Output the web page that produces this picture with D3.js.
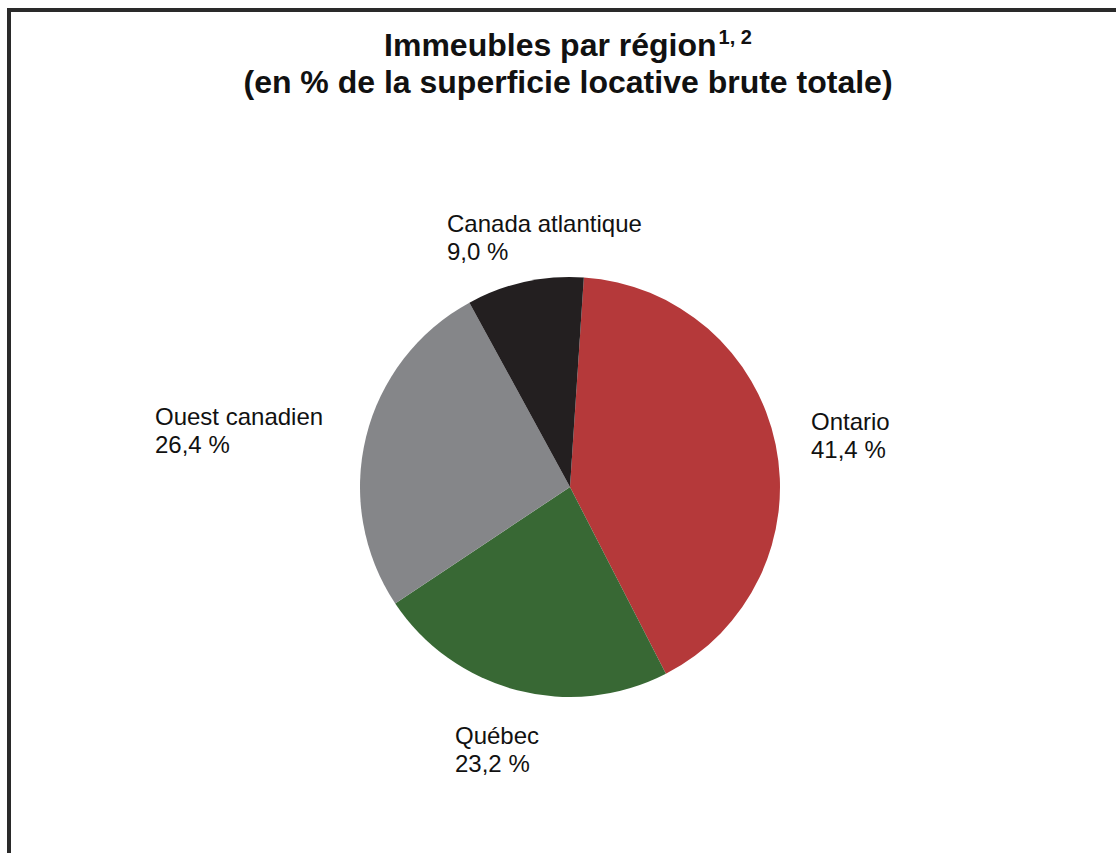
<!DOCTYPE html>
<html>
<head>
<meta charset="utf-8">
<script src="https://cdn.jsdelivr.net/npm/d3@7"></script>
<style>
  body { margin: 0; background: #fff; }
  svg { display: block; font-family: "Liberation Sans", Arial, sans-serif; }
</style>
</head>
<body>
<svg id="chart"></svg>
<script>
// data (in % of total gross leasable area)
const REGIONS = ['Ontario', 'Québec', 'Ouest canadien', 'Canada atlantique'];
const SHARES = [41.4, 23.2, 26.4, 9.0];
const SHARE_LABELS = ['41,4 %', '23,2 %', '26,4 %', '9,0 %'];

const WIDTH = 1116;
const HEIGHT = 853;
const CENTER = {x: 570, y: 487};
const RADIUS = 210;
const START_ANGLE = 0.066; // first slice starts just right of 12 o'clock

const COLORS = d3.scaleOrdinal()
    .domain(REGIONS)
    .range(['#b5393a', '#386834', '#858689', '#231f20']);

// where each label block starts (left x, first baseline y)
const LABEL_XY = {
    'Ontario': [811, 430],
    'Québec': [455, 744],
    'Ouest canadien': [155, 425],
    'Canada atlantique': [447, 232]
};

const svg = d3.select('#chart')
    .attr('width', WIDTH)
    .attr('height', HEIGHT);

// frame (top and left edges are visible)
svg.append('path')
    .attr('d', `M9,${HEIGHT} V10 H${WIDTH}`)
    .attr('fill', 'none')
    .attr('stroke', '#2a2a2a')
    .attr('stroke-width', 4);

// title
const title = svg.append('text')
    .attr('x', 568)
    .attr('y', 56)
    .attr('text-anchor', 'middle')
    .attr('font-size', 32)
    .attr('font-weight', 'bold')
    .attr('fill', '#111');
title.append('tspan').text('Immeubles par région');
title.append('tspan').attr('font-size', 20).attr('dy', -12).attr('dx', 2).text('1, 2');

svg.append('text')
    .attr('x', 568)
    .attr('y', 93)
    .attr('text-anchor', 'middle')
    .attr('font-size', 32)
    .attr('font-weight', 'bold')
    .attr('fill', '#111')
    .text('(en % de la superficie locative brute totale)');

const data = REGIONS.map((r, i) => ({region: r, value: SHARES[i], label: SHARE_LABELS[i]}));

const pie = d3.pie()
    .value(d => d.value)
    .sort(null)
    .startAngle(START_ANGLE)
    .endAngle(START_ANGLE + 2 * Math.PI);

const arc = d3.arc().innerRadius(0).outerRadius(RADIUS);

const g = svg.append('g')
    .attr('transform', `translate(${CENTER.x},${CENTER.y})`);

g.selectAll('.slice')
    .data(pie(data))
    .enter()
    .append('path')
    .classed('slice', true)
    .attr('d', arc)
    .attr('fill', d => COLORS(d.data.region));

// labels: region name + share on two lines
const labels = svg.selectAll('.label')
    .data(data)
    .enter()
    .append('text')
    .classed('label', true)
    .attr('font-size', 24)
    .attr('fill', '#111');

labels.append('tspan')
    .attr('x', d => LABEL_XY[d.region][0])
    .attr('y', d => LABEL_XY[d.region][1])
    .text(d => d.region);

labels.append('tspan')
    .attr('x', d => LABEL_XY[d.region][0])
    .attr('y', d => LABEL_XY[d.region][1] + 28)
    .text(d => d.label);
</script>
</body>
</html>
